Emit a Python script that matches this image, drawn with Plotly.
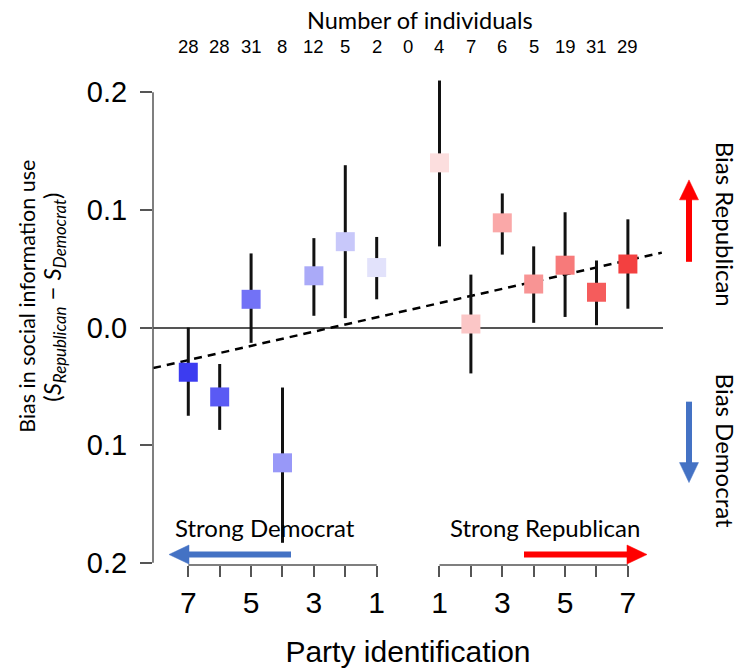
import plotly.graph_objects as go

# ---------------- data ----------------
positions = [0, 1, 2, 3, 4, 5, 6, 8, 9, 10, 11, 12, 13, 14]
bias = [-0.038, -0.059, 0.024, -0.115, 0.044, 0.073, 0.051,
        0.140, 0.003, 0.089, 0.037, 0.053, 0.030, 0.054]
ci_upper = [0.000, -0.031, 0.063, -0.051, 0.076, 0.138, 0.077,
            0.210, 0.045, 0.114, 0.069, 0.098, 0.057, 0.092]
ci_lower = [-0.075, -0.087, -0.013, -0.183, 0.010, 0.008, 0.024,
            0.069, -0.039, 0.062, 0.004, 0.009, 0.002, 0.016]
point_colors = ["#3c3cf0", "#5a5af4", "#7272f6", "#9898f8", "#aaaaf8", "#c8c8fa", "#e2e2fb",
                "#fcdede", "#fbc6c6", "#faa8a8", "#f89494", "#f77a7a", "#f55c5c", "#f34040"]

count_positions = list(range(15))
counts = ["28", "28", "31", "8", "12", "5", "2", "0", "4", "7", "6", "5", "19", "31", "29"]

major_ticks = [0, 2, 4, 6, 8, 10, 12, 14]
major_labels = ["7", "5", "3", "1", "1", "3", "5", "7"]
minor_ticks = [1, 3, 5, 9, 11, 13]

y_tickvals = [0.2, 0.1, 0.0, -0.1, -0.2]
y_ticktext = ["0.2", "0.1", "0.0", "0.1", "0.2"]

trend_x = [-1.12, 15.08]
trend_y = [-0.0345, 0.0637]

# ---------------- layout geometry ----------------
W, H = 739, 670
L, R, T, B = 153, 76, 70, 104.5
plot_w = W - L - R
plot_h = H - T - B


def px_x(p):
    return (p - L) / plot_w


def px_y(p):
    return (H - B - p) / plot_h


err_plus = [u - b for u, b in zip(ci_upper, bias)]
err_minus = [b - l for b, l in zip(bias, ci_lower)]

fig = go.Figure()

fig.add_trace(go.Scatter(
    x=trend_x, y=trend_y, mode="lines",
    line=dict(color="black", width=2.5, dash="8px,6px"),
    hoverinfo="skip", showlegend=False))

fig.add_trace(go.Scatter(
    x=positions, y=bias, mode="markers",
    marker=dict(symbol="square", size=19, color=point_colors, line=dict(width=0)),
    error_y=dict(type="data", array=err_plus, arrayminus=err_minus,
                 color="#111111", thickness=3, width=0),
    showlegend=False))

lbl_font = "Liberation Sans, Arial, sans-serif"
cal_font = "Lato, Carlito, sans-serif"

fig.update_layout(
    width=W, height=H,
    margin=dict(l=L, r=R, t=T, b=B, pad=0, autoexpand=False),
    paper_bgcolor="white", plot_bgcolor="white",
    xaxis=dict(range=[-1.124, 15.118], tickvals=major_ticks, ticktext=major_labels,
               ticks="outside", ticklen=11, tickwidth=1.5, tickcolor="#555555",
               minor=dict(tickvals=minor_ticks, ticks="outside", ticklen=11,
                          tickwidth=1.5, tickcolor="#555555", showgrid=False),
               showgrid=False, zeroline=False, showline=False, automargin=False,
               tickfont=dict(family=lbl_font, size=30, color="black"),
               title=dict(text="Party identification", standoff=22,
                          font=dict(family=lbl_font, size=30, color="black"))),
    yaxis=dict(range=[-0.20187, 0.21894], tickvals=y_tickvals, ticktext=y_ticktext,
               ticks="outside", ticklen=12, tickwidth=1.5, tickcolor="#555555",
               ticklabelstandoff=7, automargin=False,
               showgrid=False, zeroline=True, zerolinecolor="#555555", zerolinewidth=1.5,
               showline=False,
               tickfont=dict(family=lbl_font, size=29, color="black")),
)

shapes = [
    dict(type="line", xref="paper", yref="y", x0=0, x1=0, y0=-0.2, y1=0.2,
         line=dict(color="#555555", width=1.5)),
    dict(type="line", xref="x", yref="paper", x0=positions[0], x1=positions[6],
         y0=0, y1=0, line=dict(color="#555555", width=1.5)),
    dict(type="line", xref="x", yref="paper", x0=positions[7], x1=positions[13],
         y0=0, y1=0, line=dict(color="#555555", width=1.5)),
]

# decorative arrows: (tail_x, tail_y, tip_x, tip_y, colour) in pixels
red, blue = "#ff0000", "#4472c4"
arrows = [
    (689, 262, 689, 180, red),
    (689, 402, 689, 483, blue),
    (291, 555, 169, 555, blue),
    (524, 555, 647, 555, red),
]
head_len, head_half = 20, 9.5
for x0, y0, x1, y1, col in arrows:
    dx, dy = x1 - x0, y1 - y0
    n = (dx * dx + dy * dy) ** 0.5
    ux, uy = dx / n, dy / n
    bx, by = x1 - ux * head_len, y1 - uy * head_len
    shapes.append(dict(type="line", xref="paper", yref="paper",
                       x0=px_x(x0), y0=px_y(y0), x1=px_x(bx + ux), y1=px_y(by + uy),
                       line=dict(color=col, width=6)))
    p1 = (bx - uy * head_half, by + ux * head_half)
    p2 = (bx + uy * head_half, by - ux * head_half)
    path = "M{:.5f},{:.5f} L{:.5f},{:.5f} L{:.5f},{:.5f} Z".format(
        px_x(x1), px_y(y1), px_x(p1[0]), px_y(p1[1]), px_x(p2[0]), px_y(p2[1]))
    shapes.append(dict(type="path", xref="paper", yref="paper", path=path,
                       fillcolor=col, line=dict(color=col, width=0.5)))
fig.update_layout(shapes=shapes)

ann = []
for xp, c in zip(count_positions, counts):
    ann.append(dict(x=xp, y=px_y(46), xref="x", yref="paper", text=c, showarrow=False,
                    font=dict(family=lbl_font, size=18.5, color="black"),
                    xanchor="center", yanchor="middle"))
ann.append(dict(x=px_x(420), y=px_y(20), xref="paper", yref="paper",
                text="Number of individuals", showarrow=False,
                font=dict(family=cal_font, size=23.5, color="black"),
                xanchor="center", yanchor="middle"))
# y-axis title (two lines)
ann.append(dict(x=px_x(27), y=px_y(297), xref="paper", yref="paper",
                text="Bias in social information use", showarrow=False, textangle=-90,
                font=dict(family=cal_font, size=21.5, color="black"),
                xanchor="center", yanchor="middle"))
ann.append(dict(x=px_x(54), y=px_y(298), xref="paper", yref="paper",
                text="(<i>S</i><sub><i>Republican</i></sub> \u2212 <i>S</i><sub><i>Democrat</i></sub>)",
                showarrow=False, textangle=-90,
                font=dict(family=cal_font, size=24, color="black"),
                xanchor="center", yanchor="middle"))
# right side labels
ann.append(dict(x=px_x(725), y=px_y(224), xref="paper", yref="paper",
                text="Bias Republican", showarrow=False, textangle=90,
                font=dict(family=cal_font, size=24, color="black"),
                xanchor="center", yanchor="middle"))
ann.append(dict(x=px_x(725), y=px_y(451), xref="paper", yref="paper",
                text="Bias Democrat", showarrow=False, textangle=90,
                font=dict(family=cal_font, size=24, color="black"),
                xanchor="center", yanchor="middle"))
# bottom labels
ann.append(dict(x=px_x(265), y=px_y(528), xref="paper", yref="paper",
                text="Strong Democrat", showarrow=False,
                font=dict(family=cal_font, size=24, color="black"),
                xanchor="center", yanchor="middle"))
ann.append(dict(x=px_x(545), y=px_y(528), xref="paper", yref="paper",
                text="Strong Republican", showarrow=False,
                font=dict(family=cal_font, size=24, color="black"),
                xanchor="center", yanchor="middle"))
fig.update_layout(annotations=ann)

fig.write_html("out.html")
